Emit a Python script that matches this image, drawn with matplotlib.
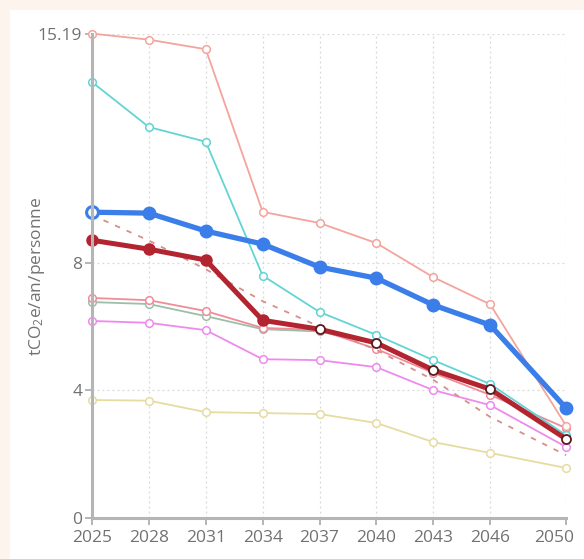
import matplotlib
matplotlib.use("Agg")
import matplotlib.pyplot as plt
from matplotlib.patches import Rectangle
from matplotlib.transforms import ScaledTranslation

plt.rcParams['font.family'] = ['Open Sans', 'DejaVu Sans']
plt.rcParams['mathtext.fontset'] = 'custom'
plt.rcParams['mathtext.rm'] = 'Open Sans'
plt.rcParams['mathtext.it'] = 'Open Sans'

years = [2025, 2028, 2031, 2034, 2037, 2040, 2043, 2046, 2050]

salmon = [15.19, 15.0, 14.7, 9.6, 9.25, 8.62, 7.55, 6.7, 2.9]
cyan = [13.67, 12.26, 11.8, 7.6, 6.46, 5.74, 4.95, 4.2, 2.6]
blue = [9.59, 9.56, 9.0, 8.59, 7.87, 7.52, 6.68, 6.05, 3.45]
darkred = [8.71, 8.43, 8.09, 6.2, 5.92, 5.49, 4.64, 4.04, 2.48]
target = [9.5, 8.7, 7.8, 6.8, 6.0, 5.27, 4.33, 3.17, 1.97]
pink = [6.9, 6.83, 6.49, 5.96, 5.9, 5.3, 4.55, 3.86, 2.82]
greygreen = [6.77, 6.71, 6.33, 5.92, 5.85, 5.45, 4.6, 4.0, 2.5]
violet = [6.18, 6.12, 5.89, 4.98, 4.95, 4.73, 4.01, 3.54, 2.23]
khaki = [3.7, 3.68, 3.32, 3.29, 3.26, 2.98, 2.38, 2.04, 1.57]

yticks = [0, 4, 8, 15.19]
ytick_labels = ['0', '4', '8', '15.19']
ylabel = 'tCO$_{2}$e/an/personne'

fig = plt.figure(figsize=(5.84, 5.59), dpi=100)
fig.patch.set_facecolor('#fdf4ee')
panel = Rectangle((10 / 584, 0), 1, 1 - 10 / 559, transform=fig.transFigure,
                  facecolor='white', edgecolor='none', zorder=-10)
fig.add_artist(panel)

ax = fig.add_axes([92 / 584, 41 / 559, 474 / 584, (518 - 33.6) / 559])
ax.set_facecolor('none')

thin = dict(lw=1.3, marker='o', ms=5.5, mfc='white', mew=1.1, clip_on=False)
ax.plot(years, khaki, color='#e6dca2', **thin)
ax.plot(years, violet, color='#ee8aee', **thin)
ax.plot(years, greygreen, color='#9dbfa9', **thin)
ax.plot(years, pink, color='#f08c9a', **thin)
ax.plot(years, target, color='#d59089', lw=1.3, ls=(0, (3, 4)), clip_on=False)
ax.plot(years, cyan, color='#62d4d4', **thin)
ax.plot(years, salmon, color='#f4a49c', **thin)

# trajectoires principales
ax.plot(years, darkred, color='#b2242f', lw=3.6, clip_on=False)
ax.plot(years[:4], darkred[:4], ls='none', marker='o', ms=8, color='#b2242f', clip_on=False)
ax.plot(years[4:], darkred[4:], ls='none', marker='o', ms=6.5, mfc='white', mec='#5a1a1e',
        mew=1.3, clip_on=False)

ax.plot(years, blue, color='#3b7de9', lw=3.8, clip_on=False)
ax.plot(years[1:], blue[1:], ls='none', marker='o', ms=9, color='#3b7de9', clip_on=False)
ax.plot(years[:1], blue[:1], ls='none', marker='o', ms=8.5, mfc='white', mec='#3b7de9',
        mew=2.2, clip_on=False)

ax.set_xlim(2025, 2050)
ax.set_ylim(0, 15.19)
ax.set_xticks(years)
ax.set_yticks(yticks)
ax.set_yticklabels(ytick_labels)
ax.grid(True, ls=(0, (1.5, 2.5)), color='#d8d8d8', lw=0.9)
ax.set_axisbelow(True)
for s in ['top', 'right']:
    ax.spines[s].set_visible(False)
for s in ['left', 'bottom']:
    ax.spines[s].set_color('#b5b5b5')
    ax.spines[s].set_linewidth(2.2)
ax.tick_params(axis='both', colors='#b5b5b5', labelcolor='#727272', labelsize=12.5,
               length=5, width=1.4)
ax.tick_params(axis='y', pad=2)
ax.tick_params(axis='x', pad=4)
ax.set_ylabel(ylabel, fontsize=12.5, color='#727272')
ax.yaxis.set_label_coords(-45 / 474, 0.5)

# dernier libellé décalé pour rester dans le cadre
last = ax.get_xticklabels()[-1]
last.set_transform(last.get_transform() + ScaledTranslation(-0.12, 0, fig.dpi_scale_trans))

fig.savefig('out.png', dpi=100, facecolor=fig.get_facecolor())
